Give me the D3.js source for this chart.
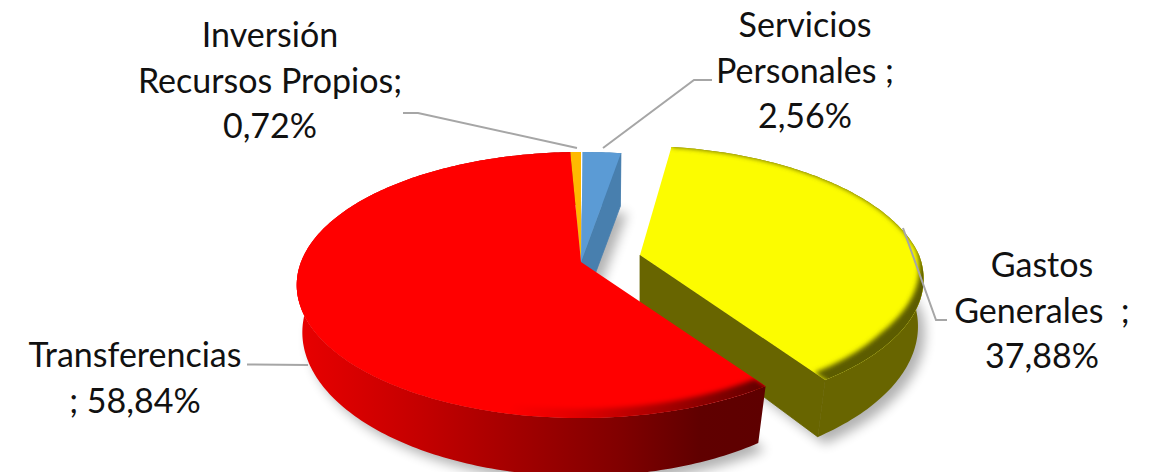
<!DOCTYPE html>
<html>
<head>
<meta charset="utf-8">
<script src="https://cdn.jsdelivr.net/npm/d3@7"></script>
<style>
body { margin: 0; background: #fff; }
svg { display: block; }
text { font-family: Lato, "Open Sans", sans-serif; font-size: 34px; fill: #111; white-space: pre; text-anchor: middle; }
</style>
</head>
<body>
<svg width="1158" height="472"></svg>
<script>
// values, clockwise from 12 o'clock
var categories = ["Servicios Personales", "Gastos Generales", "Transferencias", "Inversión Recursos Propios"];
var shares = [2.56, 37.88, 58.84, 0.72];
var topColors = ["#5b9bd5", "#fcfc00", "#ff0000", "#ffb900"];
var wallColors = ["#487fae", "#686500", "url(#redWall)", "#b88600"];
var bevelColors = ["#487fae", "#5c5c00", "url(#redBevel)", "#b88600"];

// the exploded slice sits in its own perspective in the picture
var pullX = [0, 59, 0, 0];
var pullY = [0, -7, 0, 0];
var farSkew = [-0.015, 0.06, 0, 0];
var tilts = [0.173, 0.18, 0.173, 0.173];
var radiusU = [280, 279, 280, 280];
var radiusV = [129, 129, 129, 129];

// label text, one entry per line
var labelLines = [
    ["Servicios", "Personales ;", "2,56%"],
    ["Gastos", "Generales  ;", "37,88%"],
    ["Transferencias", "; 58,84%"],
    ["Inversión", "Recursos Propios;", "0,72%"]
];
var labelX = [805, 1042, 135, 270];
var labelY = [37, 277, 367, 47];
var lineStep = 45.5;

// leader lines
var leaders = [
    [[712, 80], [694, 80], [603, 148]],
    [[903, 228], [936, 320], [947, 320]],
    [[247, 364.5], [308, 365]],
    [[403, 113], [418, 113], [577, 148]]
];

var svg = d3.select('svg');
var defs = svg.append('defs');

function addGradient(id, stops){
    var grad = defs.append('linearGradient').attr('id', id)
        .attr('gradientUnits', 'userSpaceOnUse')
        .attr('x1', 300).attr('x2', 765).attr('y1', 0).attr('y2', 0);
    grad.selectAll('stop')
        .data(stops)
        .enter().append('stop')
        .attr('offset', function(d){ return d[0]; })
        .attr('stop-color', function(d){ return d[1]; });
}
addGradient('redWall', [[0, '#e80000'], [0.26, '#c40000'], [0.47, '#a20000'], [0.69, '#800000'], [0.86, '#600000'], [1, '#5e0000']]);
addGradient('redBevel', [[0, '#ff0000'], [0.45, '#ff0000'], [0.6, '#e00000'], [0.8, '#a00000'], [1, '#600000']]);

defs.append('filter').attr('id', 'soft').attr('x', '-10%').attr('y', '-10%').attr('width', '120%').attr('height', '120%')
    .append('feGaussianBlur').attr('stdDeviation', 6);
defs.append('filter').attr('id', 'bevel').attr('x', '-10%').attr('y', '-10%').attr('width', '120%').attr('height', '120%')
    .append('feGaussianBlur').attr('stdDeviation', 2.5);

// flat disc seen in perspective: near side is larger than far side
var centerX = 581, centerY = 262;
var scaleU = d3.scaleLinear().domain([-1, 1]).range([-1, 1]);
var scaleV = d3.scaleLinear().domain([-1, 1]).range([-1, 1]);

function topPoint(angle, r, i){
    var u = r * Math.sin(angle), v = -r * Math.cos(angle);
    var s = 1 / (1 - tilts[i] * v);
    var dy = scaleV(v) * radiusV[i] * s;
    var dx = scaleU(u) * radiusU[i] * s + (dy < 0 ? farSkew[i] * dy : 0);
    return [centerX + pullX[i] + dx, centerY + pullY[i] + dy];
}
function basePoint(angle, r, i){
    var p = topPoint(angle, r, i);
    var ox = centerX + pullX[i], oy = centerY + pullY[i];
    var v = -r * Math.cos(angle);
    var shrink = 0.985 - 0.03 * Math.max(0, v);
    var depth = 50 + (v > 0 ? 14 * v : v);
    return [ox + (p[0] - ox) * shrink, oy + (p[1] - oy) * 0.963 + depth];
}

var pie = d3.pie().sort(null).value(function(d){ return d; });
var slices = pie(shares);
var line = d3.line();

function rimAngles(d){
    var n = Math.max(4, Math.ceil((d.endAngle - d.startAngle) * 60));
    return d3.range(n + 1).map(function(k){ return d.startAngle + (d.endAngle - d.startAngle) * k / n; });
}
function topPath(d, i){
    var pts = rimAngles(d).map(function(a){ return topPoint(a, 1, i); });
    pts.unshift(topPoint(0, 0, i));
    return line(pts) + 'Z';
}
function basePath(d, i){
    var pts = rimAngles(d).map(function(a){ return basePoint(a, 1, i); });
    pts.unshift(basePoint(0, 0, i));
    return line(pts) + 'Z';
}
function wallPath(d, i){
    var angles = rimAngles(d);
    var a = angles.map(function(t){ return topPoint(t, 1, i); });
    var b = angles.slice().reverse().map(function(t){ return basePoint(t, 1, i); });
    return line(a.concat(b)) + 'Z';
}
// flat side showing where the slice was cut
function cutPath(angle, i){
    return line([topPoint(angle, 0, i), topPoint(angle, 1, i), basePoint(angle, 1, i), basePoint(angle, 0, i)]) + 'Z';
}
// dark band inside the near rim of the top face
function bevelPath(d, i){
    var angles = rimAngles(d);
    var outer = angles.map(function(a){ return topPoint(a, 1.05, i); });
    var inner = angles.slice().reverse().map(function(a){
        var near = Math.max(0, -Math.cos(a) + 0.05);
        return topPoint(a, 1 - 0.05 * Math.min(1, near * 1.6), i);
    });
    return line(outer.concat(inner)) + 'Z';
}

// drop shadow under the whole pie
var shadow = svg.append('g')
    .attr('filter', 'url(#soft)')
    .attr('opacity', 0.3)
    .attr('transform', 'translate(7,7)');
slices.forEach(function(d, i){
    shadow.append('path').attr('d', basePath(d, i)).attr('fill', '#000');
});

// back to front: blue, orange, yellow, red
[0, 3, 1, 2].forEach(function(i){
    var d = slices[i];
    var g = svg.append('g');

    g.append('path').attr('d', wallPath(d, i)).attr('fill', wallColors[i]);
    // cut faces turned to the viewer, stroked so no seam shows against the wall
    if(i == 0 || i == 1){
        g.append('path').attr('d', cutPath(d.endAngle, i))
            .attr('fill', wallColors[i])
            .attr('stroke', wallColors[i])
            .attr('stroke-width', 0.8);
    }

    defs.append('clipPath').attr('id', 'top' + i)
        .append('path').attr('d', topPath(d, i));

    g.append('path').attr('d', topPath(d, i)).attr('fill', topColors[i]);
    if(i == 1 || i == 2){
        g.append('g').attr('clip-path', 'url(#top' + i + ')')
            .append('path')
            .attr('d', bevelPath(d, i))
            .attr('fill', bevelColors[i])
            .attr('filter', 'url(#bevel)');
    }
});

// leader lines
svg.selectAll('.leader')
    .data(leaders)
    .enter()
    .append('path')
    .attr('class', 'leader')
    .attr('d', function(d){ return line(d); })
    .attr('fill', 'none')
    .attr('stroke', '#a6a6a6')
    .attr('stroke-width', 2);

// labels
labelLines.forEach(function(lines, i){
    svg.selectAll(null)
        .data(lines)
        .enter()
        .append('text')
        .attr('x', labelX[i])
        .attr('y', function(d, k){ return labelY[i] + k * lineStep; })
        .text(function(d){ return d; });
});
</script>
</body>
</html>
